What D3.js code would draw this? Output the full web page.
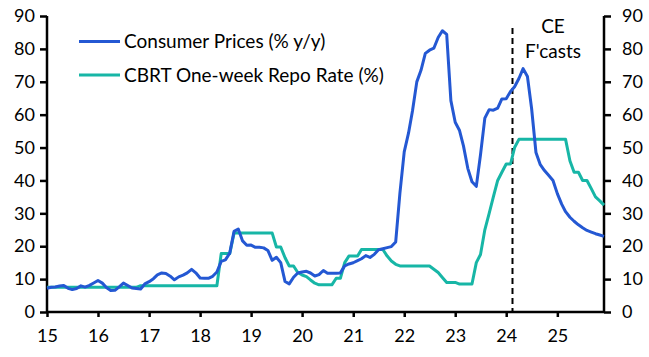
<!DOCTYPE html>
<html>
<head>
<meta charset="utf-8">
<script src="https://cdn.jsdelivr.net/npm/d3@7"></script>
<style>
  html, body { margin: 0; padding: 0; background: #fff; }
  svg { display: block; }
  text { font-family: Lato, "Open Sans", sans-serif; fill: #000; }
</style>
</head>
<body>
<svg id="chart" width="649" height="357"></svg>
<script>
// ---- Data (monthly, Jan 2015 – Dec 2025) ----
const startMonth = "2015-01";
const cpi = [
  // 2015
  7.24, 7.55, 7.61, 7.91, 8.09, 7.20, 6.81, 7.14, 7.95, 7.58, 8.10, 8.81,
  // 2016
  9.58, 8.78, 7.46, 6.57, 6.58, 7.64, 8.79, 8.05, 7.28, 7.16, 7.00, 8.53,
  // 2017
  9.22, 10.13, 11.29, 11.87, 11.72, 10.90, 9.79, 10.68, 11.20, 11.90, 12.98, 11.92,
  // 2018
  10.35, 10.26, 10.23, 10.85, 12.15, 15.39, 15.85, 17.90, 24.52, 25.24, 21.62, 20.30,
  // 2019
  20.35, 19.67, 19.71, 19.50, 18.71, 15.72, 16.65, 15.01, 9.26, 8.55, 10.56, 11.84,
  // 2020
  12.15, 12.37, 11.86, 10.94, 11.39, 12.62, 11.76, 11.77, 11.75, 11.89, 14.03, 14.60,
  // 2021
  14.97, 15.61, 16.19, 17.14, 16.59, 17.53, 18.95, 19.25, 19.58, 19.89, 21.31, 36.08,
  // 2022
  48.69, 54.44, 61.14, 69.97, 73.50, 78.62, 79.60, 80.21, 83.45, 85.51, 84.39, 64.27,
  // 2023
  57.68, 55.18, 50.51, 43.68, 39.59, 38.21, 47.83, 58.94, 61.53, 61.36, 61.98, 64.77,
  // 2024
  64.86, 67.07, 68.5, 71.0, 74.0, 71.6, 61.8, 48.5, 44.8, 43.0, 41.5, 40.0,
  // 2025
  36.0, 32.8, 30.5, 28.8, 27.6, 26.5, 25.6, 24.8, 24.3, 23.8, 23.4, 23.0
];
const repo = [
  // 2015
  7.5, 7.5, 7.5, 7.5, 7.5, 7.5, 7.5, 7.5, 7.5, 7.5, 7.5, 7.5,
  // 2016
  7.5, 7.5, 7.5, 7.5, 7.5, 7.5, 7.5, 7.5, 7.5, 7.5, 8.0, 8.0,
  // 2017
  8, 8, 8, 8, 8, 8, 8, 8, 8, 8, 8, 8,
  // 2018
  8, 8, 8, 8, 8, 17.75, 17.75, 17.75, 24, 24, 24, 24,
  // 2019
  24, 24, 24, 24, 24, 24, 19.75, 19.75, 16.5, 14, 14, 12,
  // 2020
  11.25, 10.75, 9.75, 8.75, 8.25, 8.25, 8.25, 8.25, 10.25, 10.25, 15, 17,
  // 2021
  17, 17, 19, 19, 19, 19, 19, 19, 17, 15.5, 14.5, 14,
  // 2022
  14, 14, 14, 14, 14, 14, 14, 13, 12, 10.5, 9, 9,
  // 2023
  9, 8.5, 8.5, 8.5, 8.5, 15, 17.5, 25, 30, 35, 40, 42.5,
  // 2024
  45, 45, 50, 52.5, 52.5, 52.5, 52.5, 52.5, 52.5, 52.5, 52.5, 52.5,
  // 2025
  52.5, 52.5, 52.5, 46, 42.5, 42.5, 40, 40, 37.5, 35, 33.8, 32.5
];
const seriesNames = ["Consumer Prices (% y/y)", "CBRT One-week Repo Rate (%)"];
const seriesColors = ["#2458d3", "#17b6a6"];
const yTicks = [0, 10, 20, 30, 40, 50, 60, 70, 80, 90];
const xTickYears = [2015, 2016, 2017, 2018, 2019, 2020, 2021, 2022, 2023, 2024, 2025];
const forecastStart = "2024-02-15";
const forecastLabel = ["CE", "F'casts"];

// ---- Build ----
const parseMonth = d3.timeParse("%Y-%m");
const t0 = parseMonth(startMonth);
const dates = cpi.map((_, i) => d3.timeMonth.offset(t0, i));

const svg = d3.select("#chart");
const m = { left: 47, right: 604, top: 16, bottom: 312 };

const x = d3.scaleTime()
  .domain([dates[0], dates[dates.length - 1]])
  .range([m.left, m.right]);
const y = d3.scaleLinear().domain([0, 90]).range([m.bottom, m.top]);

const tickFont = "18px";

// Left axis
const yAxisL = d3.axisLeft(y).tickValues(yTicks).tickSize(7).tickPadding(5).tickFormat(d3.format("d"));
const gL = svg.append("g").attr("transform", `translate(${m.left},0)`).call(yAxisL);
// Right axis
const yAxisR = d3.axisRight(y).tickValues(yTicks).tickSize(7).tickPadding(11).tickFormat(d3.format("d"));
const gR = svg.append("g").attr("transform", `translate(${m.right},0)`).call(yAxisR);
// Bottom axis
const xAxis = d3.axisBottom(x)
  .tickValues(xTickYears.map(yr => new Date(yr, 0, 1)))
  .tickSize(5).tickPadding(12)
  .tickFormat(d3.timeFormat("%y"));
const gB = svg.append("g").attr("transform", `translate(0,${m.bottom})`).call(xAxis);

[gL, gR, gB].forEach(g => {
  g.select(".domain").attr("stroke", "#000").attr("stroke-width", 2.5);
  g.selectAll(".tick line").attr("stroke", "#000").attr("stroke-width", 2.5);
  g.selectAll(".tick text").attr("font-family", "Lato, sans-serif").attr("font-size", tickFont).attr("fill", "#111");
});
gL.select(".domain").attr("d", `M0,${m.top}V${m.bottom}`);
gR.select(".domain").attr("d", `M0,${m.top}V${m.bottom}`);
gB.select(".domain").attr("d", `M${m.left},0H${m.right}`);

// Forecast divider
const xf = x(new Date(forecastStart));
svg.append("line")
  .attr("x1", xf).attr("x2", xf)
  .attr("y1", 28).attr("y2", m.bottom)
  .attr("stroke", "#000").attr("stroke-width", 2).attr("stroke-dasharray", "6,4");
const fl = svg.append("text").attr("text-anchor", "middle").attr("font-size", "19px");
fl.append("tspan").attr("x", 553).attr("y", 33).text(forecastLabel[0]);
fl.append("tspan").attr("x", 553).attr("y", 58).text(forecastLabel[1]);

// Lines
const line = d3.line().x((d, i) => x(dates[i])).y(d => y(d)).curve(d3.curveLinear);
svg.append("path").datum(repo)
  .attr("fill", "none").attr("stroke", seriesColors[1]).attr("stroke-width", 3)
  .attr("stroke-linejoin", "round").attr("d", line);
svg.append("path").datum(cpi)
  .attr("fill", "none").attr("stroke", seriesColors[0]).attr("stroke-width", 3)
  .attr("stroke-linejoin", "round").attr("d", line);

// Legend
const legendY = [41.5, 75];
seriesNames.forEach((name, i) => {
  svg.append("line")
    .attr("x1", 79).attr("x2", 120)
    .attr("y1", legendY[i]).attr("y2", legendY[i])
    .attr("stroke", seriesColors[i]).attr("stroke-width", 3);
  svg.append("text")
    .attr("x", 124).attr("y", legendY[i] + 6.5)
    .attr("font-size", "19px")
    .text(name);
});
</script>
</body>
</html>
